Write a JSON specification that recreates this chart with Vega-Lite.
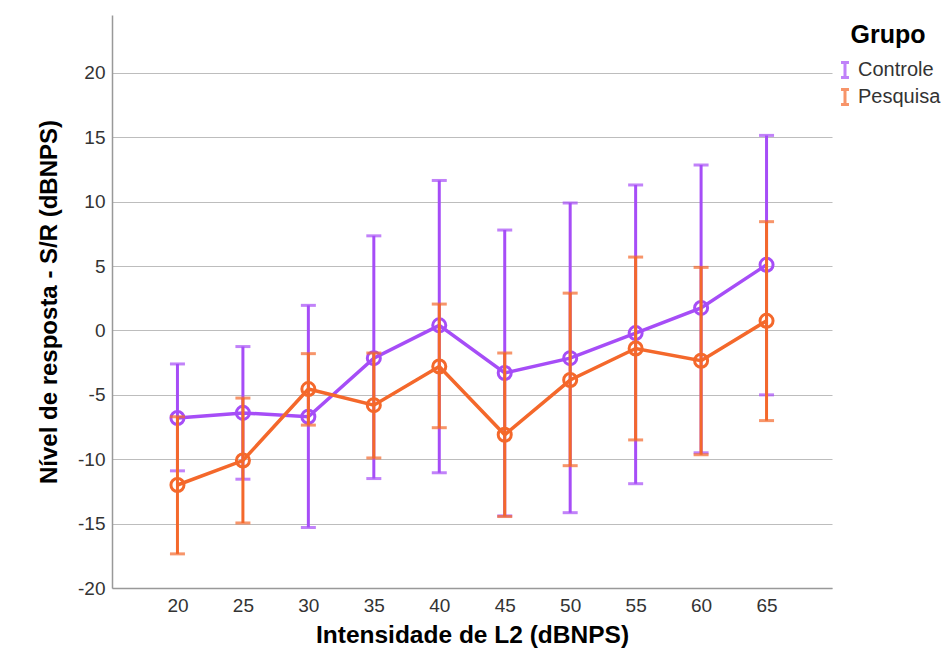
{
  "$schema": "https://vega.github.io/schema/vega-lite/v6.json",
  "autosize": {"type": "none"},
  "width": 720,
  "height": 573,
  "padding": {"left": 112, "top": 15, "right": 118, "bottom": 67},
  "background": "white",
  "data": {
    "values": [
      {"Grupo": "Controle", "L2": "20", "mean": -6.8, "lower": -10.9, "upper": -2.6},
      {"Grupo": "Controle", "L2": "25", "mean": -6.4, "lower": -11.55, "upper": -1.25},
      {"Grupo": "Controle", "L2": "30", "mean": -6.7, "lower": -15.3, "upper": 1.95},
      {"Grupo": "Controle", "L2": "35", "mean": -2.15, "lower": -11.5, "upper": 7.35},
      {"Grupo": "Controle", "L2": "40", "mean": 0.4, "lower": -11.05, "upper": 11.65},
      {"Grupo": "Controle", "L2": "45", "mean": -3.3, "lower": -14.4, "upper": 7.8},
      {"Grupo": "Controle", "L2": "50", "mean": -2.15, "lower": -14.15, "upper": 9.9},
      {"Grupo": "Controle", "L2": "55", "mean": -0.2, "lower": -11.9, "upper": 11.3},
      {"Grupo": "Controle", "L2": "60", "mean": 1.75, "lower": -9.5, "upper": 12.85},
      {"Grupo": "Controle", "L2": "65", "mean": 5.1, "lower": -5.0, "upper": 15.15},
      {"Grupo": "Pesquisa", "L2": "20", "mean": -12.0, "lower": -17.35, "upper": -6.7},
      {"Grupo": "Pesquisa", "L2": "25", "mean": -10.1, "lower": -14.95, "upper": -5.25},
      {"Grupo": "Pesquisa", "L2": "30", "mean": -4.55, "lower": -7.35, "upper": -1.8},
      {"Grupo": "Pesquisa", "L2": "35", "mean": -5.8, "lower": -9.9, "upper": -1.75},
      {"Grupo": "Pesquisa", "L2": "40", "mean": -2.8, "lower": -7.55, "upper": 2.05},
      {"Grupo": "Pesquisa", "L2": "45", "mean": -8.1, "lower": -14.45, "upper": -1.75},
      {"Grupo": "Pesquisa", "L2": "50", "mean": -3.85, "lower": -10.5, "upper": 2.9},
      {"Grupo": "Pesquisa", "L2": "55", "mean": -1.4, "lower": -8.5, "upper": 5.7},
      {"Grupo": "Pesquisa", "L2": "60", "mean": -2.35, "lower": -9.65, "upper": 4.9},
      {"Grupo": "Pesquisa", "L2": "65", "mean": 0.75, "lower": -7.0, "upper": 8.45}
    ]
  },
  "encoding": {
    "x": {
      "field": "L2", "type": "ordinal",
      "scale": {"type": "point", "padding": 1.0385},
      "axis": {"title": "Intensidade de L2 (dBNPS)", "labelAngle": 0, "ticks": false, "labelPadding": 8, "titlePadding": 8,
               "labelFontSize": 19, "labelColor": "#333", "titleFontSize": 24.5, "titleFontWeight": "bold", "titleColor": "black",
               "grid": false, "domainColor": "#999", "domainWidth": 1.5}
    },
    "y": {
      "field": "mean", "type": "quantitative",
      "scale": {"domain": [-20, 24.5], "nice": false, "zero": false},
      "axis": {"title": "Nível de resposta - S/R (dBNPS)", "values": [-20, -15, -10, -5, 0, 5, 10, 15, 20], "ticks": false, "labelPadding": 7,
               "labelExpr": "datum.value < 0 ? '-' + abs(datum.value) : '' + datum.value",
               "titlePadding": 16, "labelFontSize": 19, "labelColor": "#333", "titleFontSize": 24, "titleFontWeight": "bold", "titleColor": "black",
               "domainColor": "#999", "domainWidth": 1.5, "gridColor": "#bdbdbd", "gridWidth": 1.2}
    },
    "color": {
      "field": "Grupo", "type": "nominal",
      "scale": {"domain": ["Controle", "Pesquisa"], "range": ["#a64df7", "#f4682b"]},
      "legend": {
        "title": "Grupo",
        "orient": "none",
        "legendX": 723,
        "legendY": 8,
        "padding": 0,
        "titleAnchor": "middle",
        "symbolType": "M-0.53,-1H0.53M0,-1V1M-0.53,1H0.53",
        "symbolSize": 225,
        "symbolStrokeWidth": 3,
        "symbolFillColor": "transparent",
        "labelFontSize": 20,
        "labelOffset": 3,
        "titleFontSize": 25,
        "titleFontWeight": "bold",
        "titleColor": "black",
        "labelColor": "#333",
        "titlePadding": 12,
        "rowPadding": -1
      }
    }
  },
  "layer": [
    {
      "transform": [{"filter": "datum.Grupo === 'Controle'"}],
      "layer": [
        {"mark": {"type": "rule", "strokeWidth": 3}, "encoding": {"y": {"field": "lower", "type": "quantitative"}, "y2": {"field": "upper"}}},
        {"mark": {"type": "tick", "size": 15, "thickness": 3}, "encoding": {"y": {"field": "lower", "type": "quantitative"}}},
        {"mark": {"type": "tick", "size": 15, "thickness": 3}, "encoding": {"y": {"field": "upper", "type": "quantitative"}}},
        {"mark": {"type": "line", "strokeWidth": 3.5}},
        {"mark": {"type": "point", "filled": false, "size": 170, "strokeWidth": 3, "opacity": 1}}
      ]
    },
    {
      "transform": [{"filter": "datum.Grupo === 'Pesquisa'"}],
      "layer": [
        {"mark": {"type": "rule", "strokeWidth": 3}, "encoding": {"y": {"field": "lower", "type": "quantitative"}, "y2": {"field": "upper"}}},
        {"mark": {"type": "tick", "size": 15, "thickness": 3}, "encoding": {"y": {"field": "lower", "type": "quantitative"}}},
        {"mark": {"type": "tick", "size": 15, "thickness": 3}, "encoding": {"y": {"field": "upper", "type": "quantitative"}}},
        {"mark": {"type": "line", "strokeWidth": 3.5}},
        {"mark": {"type": "point", "filled": false, "size": 170, "strokeWidth": 3, "opacity": 1}}
      ]
    }
  ],
  "config": {
    "font": "Liberation Sans",
    "view": {"stroke": null},
    "legend": {"labelFont": "Liberation Sans", "titleFont": "Liberation Sans"}
  }
}
